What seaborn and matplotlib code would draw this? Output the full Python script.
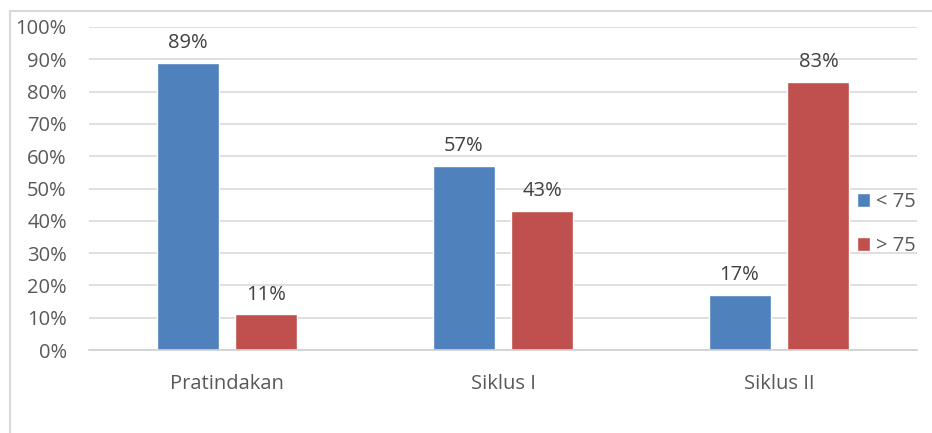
import pandas as pd
import seaborn as sns
import matplotlib.pyplot as plt
from matplotlib.lines import Line2D
from matplotlib.ticker import PercentFormatter, FixedLocator

categories = ["Pratindakan", "Siklus I", "Siklus II"]
below_75 = [89, 57, 17]
above_75 = [11, 43, 83]
series_names = ["< 75", "> 75"]

df = pd.DataFrame({
    "kategori": categories * 2,
    "nilai": below_75 + above_75,
    "kelompok": [series_names[0]] * 3 + [series_names[1]] * 3,
})

sns.set_style("white")
plt.rcParams["font.family"] = ["Open Sans", "DejaVu Sans"]
fs = 14.5

fig = plt.figure(figsize=(9.32, 4.33), dpi=100)
ax = fig.add_axes([89 / 932, 83 / 433, (917 - 89) / 932, 323 / 433])

sns.barplot(data=df, x="kategori", y="nilai", hue="kelompok",
            palette=["#4f81bd", "#c0504d"], width=0.572, gap=0.215,
            saturation=1, ax=ax, legend=True)

for c in ax.containers:
    ax.bar_label(c, fmt="%d%%", padding=7, fontsize=fs, color="#404040")

ax.set_ylim(0, 100)
ax.set_xlim(-0.5, 2.5)
ax.yaxis.set_major_locator(FixedLocator(range(0, 101, 10)))
ax.yaxis.set_major_formatter(PercentFormatter(decimals=0))
ax.grid(axis="y", color="#d9d9d9", linewidth=1.2)
ax.set_axisbelow(True)
ax.set_xlabel("")
ax.set_ylabel("")

for s in ["top", "right", "left"]:
    ax.spines[s].set_visible(False)
ax.spines["bottom"].set_color("#d0d0d0")
ax.spines["bottom"].set_linewidth(1.2)

ax.set_xticks([0, 1, 2])
ax.set_xticklabels(categories)
ax.set_xticks([-0.5, 0.5, 1.5, 2.5], minor=True)
ax.tick_params(axis="x", which="major", length=0, pad=17, labelsize=fs, labelcolor="#595959")
ax.tick_params(axis="x", which="minor", length=7, width=1.2, color="#d0d0d0", direction="out")
ax.tick_params(axis="y", length=0, pad=16, labelsize=fs, labelcolor="#595959")

leg = ax.legend(loc="center left", bbox_to_anchor=(0.906, 0.39), frameon=False,
                fontsize=fs, handlelength=0.65, handleheight=0.65,
                handletextpad=0.3, labelspacing=1.2, labelcolor="#595959")

# outer chart border (left and top)
fig.add_artist(Line2D([10 / 932, 10 / 932], [0, 1 - 11 / 433], color="#d9d9d9", lw=1.5, transform=fig.transFigure))
fig.add_artist(Line2D([10 / 932, 1], [1 - 11 / 433, 1 - 11 / 433], color="#d9d9d9", lw=1.5, transform=fig.transFigure))

fig.savefig("out.png", dpi=100)
